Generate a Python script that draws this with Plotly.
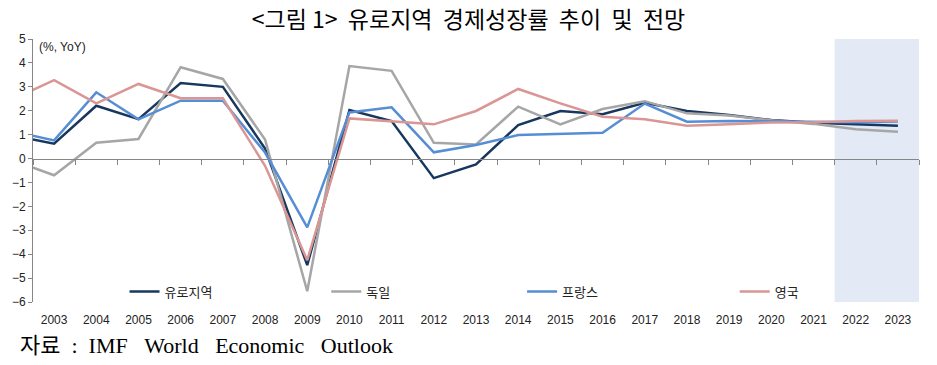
import plotly.graph_objects as go

years = list(range(2002, 2024))
tick_years = list(range(2003, 2024))

euro = [0.98, 0.62, 2.21, 1.65, 3.16, 3.00, 0.42, -4.46, 2.03, 1.57, -0.82, -0.25,
        1.40, 1.99, 1.85, 2.33, 1.99, 1.82, 1.61, 1.50, 1.43, 1.37]
germany = [-0.06, -0.70, 0.66, 0.82, 3.82, 3.33, 0.80, -5.55, 3.87, 3.67, 0.66, 0.59,
           2.17, 1.43, 2.07, 2.40, 1.89, 1.80, 1.60, 1.45, 1.23, 1.12]
france = [1.14, 0.76, 2.77, 1.64, 2.42, 2.42, 0.25, -2.88, 1.93, 2.14, 0.26, 0.57,
          0.98, 1.03, 1.08, 2.30, 1.54, 1.57, 1.55, 1.52, 1.52, 1.55]
uk = [2.46, 3.28, 2.31, 3.12, 2.52, 2.52, -0.30, -4.25, 1.68, 1.55, 1.43, 1.99,
      2.91, 2.31, 1.75, 1.64, 1.37, 1.43, 1.51, 1.52, 1.57, 1.58]

names = ["유로지역", "독일", "프랑스", "영국"]
colors = ["#17375E", "#A6A6A6", "#558ED5", "#D99694"]
series = [euro, germany, france, uk]
legend_ids = ["legend", "legend2", "legend3", "legend4"]
legend_x = [0.1033, 0.331, 0.552, 0.792]

NB = "\u00a0"
title_text = (NB * 2).join(["<그림 1>", "유로지역", "경제성장률", "추이", "및", "전망"])
title_text = title_text.replace("<그림 1>", "&lt;그림" + NB + "1&gt;")
source_text = ("자료" + NB * 2 + ":" + NB * 2 + "IMF" + NB * 3 + "World" + NB * 3
               + "Economic" + NB * 3 + "Outlook")

fig = go.Figure()
for nm, c, s, lg in zip(names, colors, series, legend_ids):
    fig.add_trace(go.Scatter(x=years, y=s, name=nm, mode="lines", legend=lg,
                             line=dict(color=c, width=2.5)))

# forecast band
fig.add_shape(type="rect", xref="x", yref="y domain", x0=2021.5, x1=2023.5, y0=0, y1=1,
              fillcolor="#E3EAF6", line_width=0, layer="below")

# invisible trace on x2 so the zero-line axis is drawn
fig.add_trace(go.Scatter(x=[2002.5], y=[0], xaxis="x2", mode="markers",
                         marker=dict(opacity=0), showlegend=False, hoverinfo="skip"))

legend_font = dict(family="Noto Sans CJK KR", size=13, color="#222")
legends = {}
for lg, lx in zip(legend_ids, legend_x):
    legends[lg] = dict(orientation="h", x=lx, xanchor="left", y=0.04, yanchor="middle",
                       bgcolor="rgba(0,0,0,0)", itemwidth=30, font=legend_font)

fig.update_layout(
    width=937, height=365,
    margin=dict(l=33, r=18, t=39, b=63),
    paper_bgcolor="white", plot_bgcolor="rgba(0,0,0,0)",
    title=dict(text=title_text, x=0.5, xanchor="center",
               y=0.945, yanchor="middle",
               font=dict(family="Noto Sans CJK KR", size=23, color="#000")),
    xaxis=dict(range=[2002.5, 2023.5], tickvals=tick_years, ticktext=[str(y) for y in tick_years],
               showgrid=False, zeroline=False, showline=False, ticks="",
               ticklabelstandoff=9,
               tickfont=dict(family="Liberation Sans Narrow, Liberation Sans", size=12, color="#222")),
    xaxis2=dict(overlaying="x", anchor="free", position=6/11, range=[2002.5, 2023.5],
                tickvals=[y + 0.5 for y in range(2002, 2024)], showticklabels=False,
                ticks="outside", ticklen=5, tickcolor="#868686", tickwidth=1,
                showline=True, linecolor="#868686", linewidth=1, showgrid=False, zeroline=False),
    yaxis=dict(range=[-6, 5], domain=[0, 1], dtick=1, showgrid=False, zeroline=False,
               showline=True, linecolor="#868686", linewidth=1,
               ticks="outside", ticklen=4, tickcolor="#868686",
               tickfont=dict(family="Liberation Sans", size=12, color="#222")),
    showlegend=True,
    **legends,
)

fig.add_annotation(text="(%, YoY)", xref="paper", yref="paper", x=0.004, y=0.97,
                   xanchor="left", yanchor="middle", showarrow=False,
                   font=dict(family="Liberation Sans", size=12, color="#222"))
fig.add_annotation(text=source_text, xref="paper", yref="paper",
                   x=-0.017, y=-0.167, xanchor="left", yanchor="middle", showarrow=False,
                   font=dict(family="Liberation Serif, Noto Sans CJK KR", size=22, color="#000"))

fig.write_html("out.html", config={"displayModeBar": False},
               post_script="document.body.style.margin='0';document.body.style.padding='0';")
